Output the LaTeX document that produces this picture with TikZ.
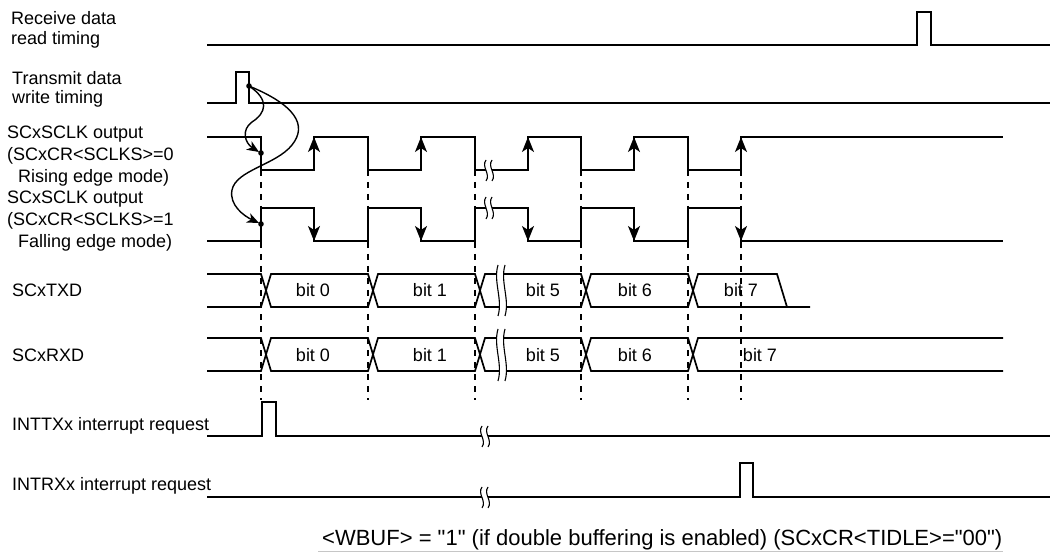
\documentclass[tikz,border=0pt]{standalone}
\usepackage{fontspec}
\setmainfont{Liberation Sans}
\newfontfamily\plainfont{Liberation Sans}
\usetikzlibrary{arrows.meta}
\tikzset{
  sig/.style={line width=1.7pt, line join=miter},
  dsh/.style={line width=1.1pt, dash pattern=on 6pt off 6pt},
  brk/.style={line width=1.1pt},
  edgearrow/.style={line width=1.7pt, -{Stealth[length=15pt,width=12pt,inset=4pt]}},
  curvearrow/.style={line width=1.4pt, -{Stealth[length=12pt,width=10pt,inset=3.5pt]}},
  lbl/.style={font=\plainfont\fontsize{18}{20}\selectfont, inner sep=0pt, anchor=base west},
  notelbl/.style={font=\plainfont\fontsize{22}{24}\selectfont, inner sep=0pt, anchor=base west},
  bitlbl/.style={font=\plainfont\fontsize{18}{20}\selectfont, inner sep=0pt, anchor=base},
}
\newcommand\brkmark[4]{%
  \fill[white] (#1,#2) .. controls ({#1-5},{#2+(#3-#2)/3}) and ({#1+5},{#3-(#3-#2)/3}) .. (#1,#3)
     -- ({#1+#4},#3) .. controls ({#1+#4+5},{#3-(#3-#2)/3}) and ({#1+#4-5},{#2+(#3-#2)/3}) .. ({#1+#4},#2) -- cycle;
  \draw[brk] (#1,#2) .. controls ({#1-5},{#2+(#3-#2)/3}) and ({#1+5},{#3-(#3-#2)/3}) .. (#1,#3);
  \draw[brk] ({#1+#4},#2) .. controls ({#1+#4-5},{#2+(#3-#2)/3}) and ({#1+#4+5},{#3-(#3-#2)/3}) .. ({#1+#4},#3);
}
\begin{document}
\begin{tikzpicture}[x=1pt,y=-1pt]
\useasboundingbox (0,0) rectangle (1050,556);

% labels
\node[lbl] (l1a) at (11,25) {Receive data};
\node[lbl] (l1b) at (11,45) {read timing};
\node[lbl] (l2a) at (12,85) {Transmit data};
\node[lbl] (l2b) at (12,104) {write timing};
\node[lbl] (l3a) at (7,139) {SCxSCLK output};
\node[lbl] (l3b) at (7,161) {(SCxCR<SCLKS>=0};
\node[lbl] (l3c) at (18,183) {Rising edge mode)};
\node[lbl] (l4a) at (7,204) {SCxSCLK output};
\node[lbl] (l4b) at (7,226) {(SCxCR<SCLKS>=1};
\node[lbl] (l4c) at (18,248) {Falling edge mode)};
\node[lbl] (l5) at (12,297) {SCxTXD};
\node[lbl] (l6) at (12,361) {SCxRXD};
\node[lbl] (l7) at (12,430) {INTTXx interrupt request};
\node[lbl] (l8) at (12,490) {INTRXx interrupt request};

% dashed guide lines
\foreach \x in {261,368,475,581,688,741} {
  \draw[dsh] (\x,170) -- (\x,400);
}

% receive data read timing
\draw[sig] (207,45) -- (917,45) -- (917,12) -- (931,12) -- (931,45) -- (1050,45);
% transmit data write timing
\draw[sig] (207,103) -- (236,103) -- (236,72) -- (249,72) -- (249,103) -- (1050,103);

% SCLK rising edge mode
\draw[sig] (207,137) -- (261,137) -- (261,170) -- (314,170) -- (314,137) -- (368,137) -- (368,170)
  -- (421,170) -- (421,137) -- (475,137) -- (475,170) -- (528,170) -- (528,137) -- (581,137)
  -- (581,170) -- (634,170) -- (634,137) -- (688,137) -- (688,170) -- (741,170) -- (741,137) -- (1003,137);
\foreach \x in {314,421,528,634,741} {
  \draw[edgearrow] (\x,170) -- (\x,137);
}
% SCLK falling edge mode
\draw[sig] (207,241) -- (261,241) -- (261,208) -- (314,208) -- (314,241) -- (368,241) -- (368,208)
  -- (421,208) -- (421,241) -- (475,241) -- (475,208) -- (528,208) -- (528,241) -- (581,241)
  -- (581,208) -- (634,208) -- (634,241) -- (688,241) -- (688,208) -- (741,208) -- (741,241) -- (1003,241);
\foreach \x in {314,421,528,634,741} {
  \draw[edgearrow] (\x,208) -- (\x,241);
}

% TXD
\draw[sig] (207,274) -- (261,274) -- (271,307) -- (368,307) -- (378,274) -- (475,274) -- (485,307)
  -- (581,307) -- (591,274) -- (688,274) -- (698,307) -- (810,307);
\draw[sig] (207,307) -- (261,307) -- (271,274) -- (368,274) -- (378,307) -- (475,307) -- (485,274)
  -- (581,274) -- (591,307) -- (688,307) -- (698,274) -- (777,274) -- (787,307);
% RXD
\draw[sig] (207,338) -- (261,338) -- (271,371) -- (368,371) -- (378,338) -- (475,338) -- (485,371)
  -- (581,371) -- (591,338) -- (688,338) -- (698,371) -- (1003,371);
\draw[sig] (207,371) -- (261,371) -- (271,338) -- (368,338) -- (378,371) -- (475,371) -- (485,338)
  -- (581,338) -- (591,371) -- (688,371) -- (698,338) -- (1003,338);

% bit labels
\node[bitlbl] (t0) at (313,297) {bit 0};
\node[bitlbl] (t1) at (430,297) {bit 1};
\node[bitlbl] (t5) at (543,297) {bit 5};
\node[bitlbl] (t6) at (635,297) {bit 6};
\node[bitlbl] (t7) at (741,297) {bit 7};
\node[bitlbl] (r0) at (313,361) {bit 0};
\node[bitlbl] (r1) at (430,361) {bit 1};
\node[bitlbl] (r5) at (543,361) {bit 5};
\node[bitlbl] (r6) at (635,361) {bit 6};
\node[bitlbl] (r7) at (760,361) {bit 7};

% interrupt requests
\draw[sig] (207,436) -- (262,436) -- (262,402) -- (276,402) -- (276,436) -- (1050,436);
\draw[sig] (207,497) -- (740,497) -- (740,463) -- (753,463) -- (753,497) -- (1050,497);

% break marks
\brkmark{486}{160}{181}{6}
\brkmark{486}{197}{219}{6}
\brkmark{498}{265}{316}{7}
\brkmark{498}{329}{381}{7}
\brkmark{482}{426}{447}{6}
\brkmark{482}{487}{508}{6}

% trigger dots and curved arrows
\coordinate (d1) at (249,86);
\coordinate (d2) at (261,153);
\coordinate (d3) at (261,224);
\fill (d1) circle (2.8pt);
\fill (d2) circle (2.8pt);
\fill (d3) circle (2.8pt);
\draw[curvearrow] (d1) .. controls (270,100) and (266,113) .. (252,122)
  .. controls (241,130) and (245,143) .. (259,152);
\draw[curvearrow] (d1) .. controls (295,105) and (308,125) .. (292,145)
  .. controls (276,165) and (236,170) .. (232,190)
  .. controls (229,205) and (244,216) .. (259,223);

% footnote
\node[notelbl] (note) at (322,545) {<WBUF> = "1" (if double buffering is enabled) (SCxCR<TIDLE>="00")};
\draw[gray!45, line width=0.8pt] (318,551) -- (1003,551);
\end{tikzpicture}
\end{document}
